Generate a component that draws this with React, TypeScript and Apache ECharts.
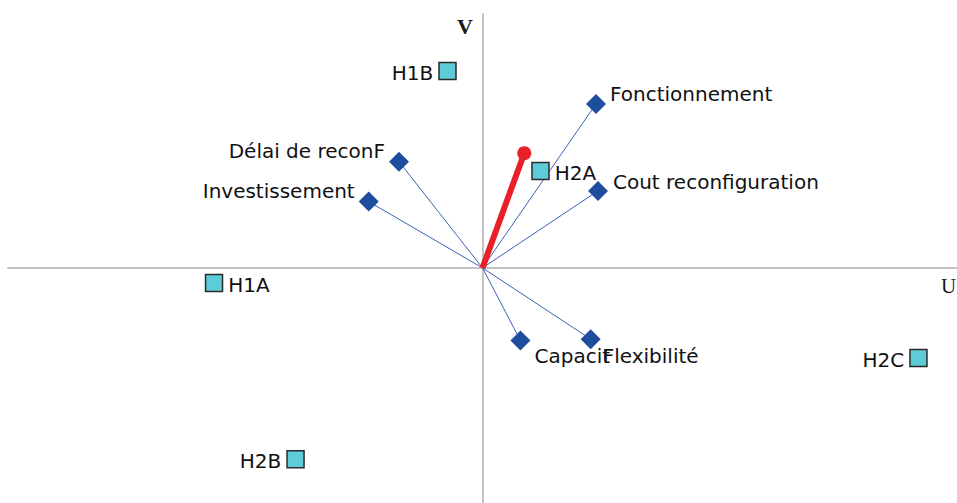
import React, { useEffect, useRef } from "react";
import * as echarts from "echarts";

const altNames = ["H1B", "H2A", "H1A", "H2C", "H2B"];
const altU = [-0.0369, 0.0611, -0.2829, 0.4594, -0.197];
const altV = [0.2095, 0.1031, -0.016, -0.0957, -0.2036];
const altLabelPos = ["left", "right", "right", "left", "left"];

const critNames = ["Fonctionnement", "Délai de reconF", "Investissement", "Cout reconfiguration", "Capacit", "Flexibilité"];
const critU = [0.1196, -0.088, -0.1199, 0.1217, 0.04, 0.114];
const critV = [0.1744, 0.113, 0.0705, 0.0819, -0.0773, -0.0758];
const critLabelPos = ["right", "left", "left", "right", "right", "right"];
const critLabelOffset = [[0, -10], [0, -11], [0, -11], [0, -9], [0, 15], [0, 17]];
const critLabelDist = [4, 4, 4, 5, 4, 2];

const decisionAxis = [0.044, 0.122];

const FONT = "DejaVu Sans";

export default function App() {
  const ref = useRef<HTMLDivElement>(null);
  useEffect(() => {
    if (!ref.current) return;
    const chart = echarts.init(ref.current, null, { renderer: "svg" });
    const axisLine = { show: true, onZero: true, lineStyle: { color: "#c4c4c4", width: 2 } };
    chart.setOption({
      animation: false,
      backgroundColor: "#ffffff",
      grid: { left: 8, right: 0, top: 14, bottom: 0 },
      xAxis: {
        type: "value", min: -0.5, max: 0.5,
        axisLine, axisTick: { show: false }, axisLabel: { show: false }, splitLine: { show: false },
      },
      yAxis: {
        type: "value", min: -0.25, max: 0.27,
        axisLine, axisTick: { show: false }, axisLabel: { show: false }, splitLine: { show: false },
      },
      graphic: [
        { type: "text", left: 457, top: 15, style: { text: "V", font: "bold 22px 'Liberation Serif'", fill: "#1a1a1a" } },
        { type: "text", left: 941, top: 275, style: { text: "U", font: "21px 'Liberation Serif'", fill: "#1a1a1a" } },
      ],
      series: [
        {
          type: "lines",
          coordinateSystem: "cartesian2d",
          silent: true,
          lineStyle: { color: "#3a64b4", width: 1, opacity: 1 },
          data: critNames.map((_, i) => ({ coords: [[0, 0], [critU[i], critV[i]]] })),
          z: 2,
        },
        {
          type: "line",
          data: [
            { value: [0, 0], symbol: "none" },
            { value: decisionAxis, symbol: "circle", symbolSize: 14 },
          ],
          lineStyle: { color: "#e8202a", width: 6 },
          itemStyle: { color: "#e8202a", opacity: 1 },
          z: 3,
        },
        {
          type: "scatter",
          symbol: "diamond",
          symbolSize: 20,
          itemStyle: { color: "#1f4d9e", opacity: 1 },
          z: 4,
          data: critNames.map((n, i) => ({
            name: n,
            value: [critU[i], critV[i]],
            label: {
              show: true,
              formatter: n,
              position: critLabelPos[i],
              distance: critLabelDist[i],
              offset: critLabelOffset[i],
              fontFamily: FONT,
              fontSize: 20,
              color: "#111111",
            },
          })),
        },
        {
          type: "scatter",
          symbol: "rect",
          symbolSize: 17,
          itemStyle: { color: "#5ecbd8", borderColor: "#2a2a2a", borderWidth: 1.5, opacity: 1 },
          z: 5,
          data: altNames.map((n, i) => ({
            name: n,
            value: [altU[i], altV[i]],
            label: {
              show: true,
              formatter: n,
              position: altLabelPos[i],
              distance: 5,
              offset: [0, 2],
              fontFamily: FONT,
              fontSize: 20,
              color: "#111111",
            },
          })),
        },
      ],
    });
    return () => chart.dispose();
  }, []);
  return <div ref={ref} style={{ width: 957, height: 503, position: "absolute", left: 0, top: 0 }} />;
}
